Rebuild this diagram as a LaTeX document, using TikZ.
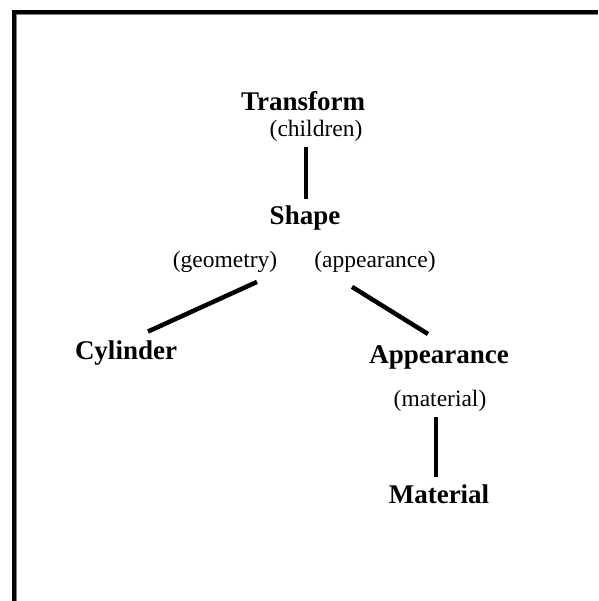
\documentclass[tikz,border=0pt]{standalone}
\usepackage{fontspec}
\setmainfont{Liberation Serif}
\tikzset{
  nodename/.style={font=\fontsize{27}{32}\selectfont\bfseries, inner sep=1pt},
  field/.style={font=\fontsize{23.5}{28}\selectfont, inner sep=1pt},
  link/.style={line width=4.5pt},
}
\begin{document}
\begin{tikzpicture}[x=1pt,y=-1pt]
  \useasboundingbox (0,0) rectangle (598,601);
  % frame, top and left only
  \draw[line width=4.5pt,miter limit=10] (14,601) -- (14,12.25) -- (598,12.25);
  \draw[gray,line width=1pt] (16.8,601) -- (16.8,15) -- (598,15);
  % nodes
  \node[nodename] (transform) at (303,101) {Transform};
  \node[field] (children) at (316,131) {(children)};
  \node[nodename] (shape) at (305,218) {Shape};
  \node[field] (geometry) at (225,262) {(geometry)};
  \node[field] (appfield) at (375,262) {(appearance)};
  \node[nodename] (cylinder) at (126,353) {Cylinder};
  \node[nodename] (appearance) at (439,357) {Appearance};
  \node[field] (matfield) at (440,401) {(material)};
  \node[nodename] (material) at (439,494) {Material};
  % links
  \draw[link] ([xshift=-10pt,yshift=-4pt]children.south) -- ([xshift=1pt,yshift=6pt]shape.north);
  \draw[link] ([xshift=32pt,yshift=-8pt]geometry.south) -- ([xshift=22pt,yshift=8pt]cylinder.north);
  \draw[link] ([xshift=-23pt,yshift=-13pt]appfield.south) -- ([xshift=-11pt,yshift=10pt]appearance.north);
  \draw[link] ([xshift=-4pt,yshift=-4pt]matfield.south) -- ([xshift=-3pt,yshift=6pt]material.north);
\end{tikzpicture}
\end{document}
